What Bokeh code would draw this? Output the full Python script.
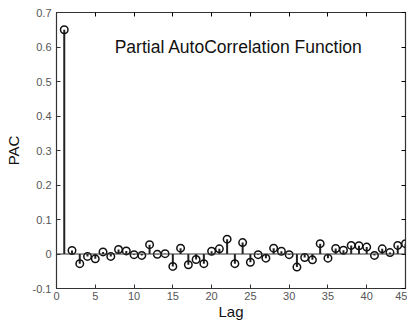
from bokeh.plotting import figure
from bokeh.models import LinearAxis, Range1d, Label, FixedTicker, Span, CustomJSTickFormatter
from bokeh.embed import file_html
from bokeh.resources import INLINE

lags = list(range(1, 46))
pac = [0.65, 0.010, -0.028, -0.007, -0.014, 0.006, -0.007, 0.013, 0.009, -0.002,
       -0.004, 0.027, -0.001, 0.001, -0.036, 0.017, -0.031, -0.016, -0.028, 0.008,
       0.015, 0.043, -0.028, 0.033, -0.024, -0.002, -0.012, 0.017, 0.008, -0.002,
       -0.038, -0.010, -0.017, 0.030, -0.012, 0.016, 0.011, 0.025, 0.024, 0.020,
       -0.004, 0.015, 0.004, 0.025, 0.030]
x_ticks = [0, 5, 10, 15, 20, 25, 30, 35, 40, 45]
y_ticks = [-0.1, 0.0, 0.1, 0.2, 0.3, 0.4, 0.5, 0.6, 0.7]
title_text = "Partial AutoCorrelation Function"
x_label = "Lag"
y_label = "PAC"

FONT = "Liberation Sans"
GRAY = "#555555"

p = figure(width=407, height=323, output_backend="svg", toolbar_location=None,
           x_range=Range1d(0, 45), y_range=Range1d(-0.1, 0.7),
           min_border_left=56, min_border_right=2, min_border_top=12, min_border_bottom=35)
p.xgrid.visible = False
p.ygrid.visible = False
p.outline_line_color = "#333333"
p.outline_line_width = 1.2

for ax in (p.xaxis[0], p.yaxis[0]):
    ax.major_tick_in = 4
    ax.major_tick_out = 0
    ax.minor_tick_line_color = None
    ax.axis_line_color = "#333333"
    ax.major_tick_line_color = "#333333"
    ax.major_label_text_font = FONT
    ax.major_label_text_font_size = "11px"
    ax.major_label_text_color = GRAY
    ax.axis_label_text_font = FONT
    ax.axis_label_text_font_style = "normal"
    ax.axis_label_text_font_size = "15px"
    ax.axis_label_text_color = "#111111"

p.xaxis.ticker = FixedTicker(ticks=x_ticks)
p.yaxis.ticker = FixedTicker(ticks=y_ticks)
p.yaxis.formatter = CustomJSTickFormatter(code="return Math.abs(tick) < 1e-9 ? '0' : tick.toFixed(1);")
p.xaxis.axis_label = x_label
p.yaxis.axis_label = y_label
p.xaxis.major_label_standoff = 3
p.yaxis.major_label_standoff = 5
p.xaxis.axis_label_standoff = 0
p.yaxis.axis_label_standoff = 8

blank = CustomJSTickFormatter(code="return '';")
top = LinearAxis(ticker=FixedTicker(ticks=x_ticks), major_tick_in=4, major_tick_out=0,
                 minor_tick_line_color=None, formatter=blank,
                 major_label_standoff=0, axis_line_color="#333333")
right = LinearAxis(ticker=FixedTicker(ticks=y_ticks), major_tick_in=4, major_tick_out=0,
                   minor_tick_line_color=None, formatter=blank,
                   major_label_standoff=0, axis_line_color="#333333")
p.add_layout(top, "above")
p.add_layout(right, "right")

p.add_layout(Span(location=0, dimension="width", line_color="#333333", line_width=1.2))

p.segment(x0=lags, y0=[0] * len(lags), x1=lags, y1=pac, line_color="#222222", line_width=2)
p.scatter(lags, pac, marker="circle", size=7.5, fill_color=None, line_color="#111111", line_width=1.5)

p.add_layout(Label(x=7.5, y=0.6, text=title_text, text_font=FONT, text_font_size="17.5px",
                   text_baseline="middle", text_color="#111111"))

open("out.html", "w").write(file_html(p, INLINE))
